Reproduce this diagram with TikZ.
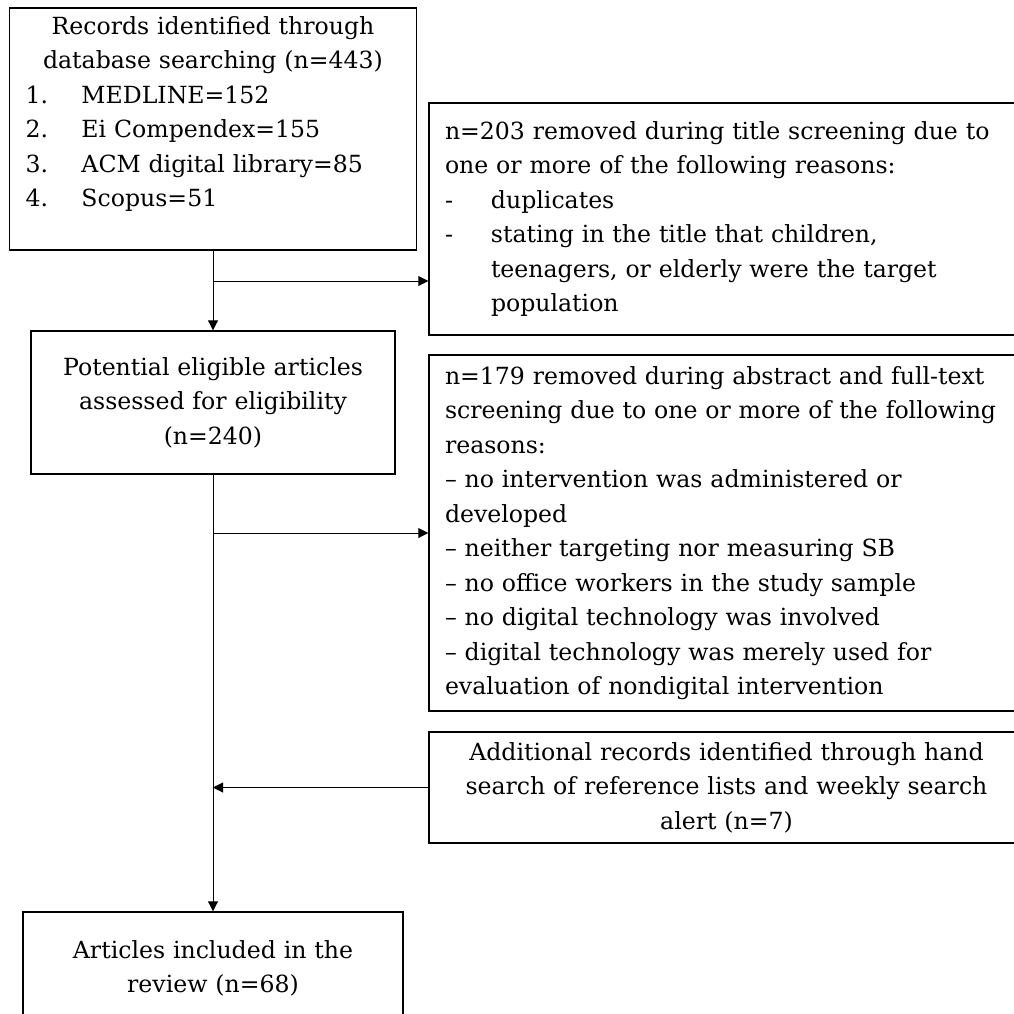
\documentclass[tikz,border=0pt]{standalone}
\usepackage{fontspec}
\setmainfont{DejaVu Serif}
\usetikzlibrary{arrows.meta}

\begin{document}
\begin{tikzpicture}[x=0.5pt, y=-0.5pt,
  box/.style={draw, line width=0.7pt, inner xsep=8pt, inner ysep=0pt,
              font=\fontsize{11.8}{17.25}\selectfont},
  link/.style={line width=0.45pt},
  >={Triangle[length=5pt,width=5pt]}]
  \clip (0,0) rectangle (1014,1014);

  \node[box, minimum width=203.5pt, minimum height=121pt, text width=187.5pt] (records) at (213,129)
    {\centering Records identified through\\ database searching (n=443)\par
     \raggedright \makebox[28pt][l]{1.}MEDLINE=152\\
     \makebox[28pt][l]{2.}Ei Compendex=155\\
     \makebox[28pt][l]{3.}ACM digital library=85\\
     \makebox[28pt][l]{4.}Scopus=51\\ \mbox{}};
  \node[box, align=left, minimum width=297.5pt, minimum height=116pt, text width=281.5pt] (title) at (726.5,219)
    {n=203 removed during title screening due to\\
     one or more of the following reasons:\\
     \makebox[23pt][l]{-}duplicates\\
     \makebox[23pt][l]{-}stating in the title that children,\\
     \hspace*{23pt}teenagers, or elderly were the target\\
     \hspace*{23pt}population};
  \node[box, align=center, minimum width=182pt, minimum height=71.5pt, text width=166pt] (eligible) at (213,402.5)
    {Potential eligible articles\\ assessed for eligibility\\ (n=240)};
  \node[box, align=left, minimum width=297.5pt, minimum height=178pt, text width=281.5pt] (fulltext) at (726.5,533)
    {n=179 removed during abstract and full-text\\
     screening due to one or more of the following\\
     reasons:\\
     – no intervention was administered or\\
     developed\\
     – neither targeting nor measuring SB\\
     – no office workers in the study sample\\
     – no digital technology was involved\\
     – digital technology was merely used for\\
     evaluation of nondigital intervention};
  \node[box, align=center, minimum width=297.5pt, minimum height=55.5pt, text width=281.5pt] (hand) at (726.5,787.5)
    {Additional records identified through hand\\ search of reference lists and weekly search\\ alert (n=7)};
  \node[box, align=center, minimum width=190pt, minimum height=56.5pt, text width=174pt] (included) at (213,968.5)
    {Articles included in the\\ review (n=68)};

  \coordinate (fork1) at (213,281);
  \coordinate (fork2) at (213,533);
  \draw[link,->] (records.south) -- (eligible.north);
  \draw[link,->] (fork1) -- (fork1 -| title.west);
  \draw[link,->] (eligible.south) -- (included.north);
  \draw[link,->] (fork2) -- (fork2 -| fulltext.west);
  \draw[link,->] (hand.west) -- (hand.west -| eligible.south);
\end{tikzpicture}
\end{document}
